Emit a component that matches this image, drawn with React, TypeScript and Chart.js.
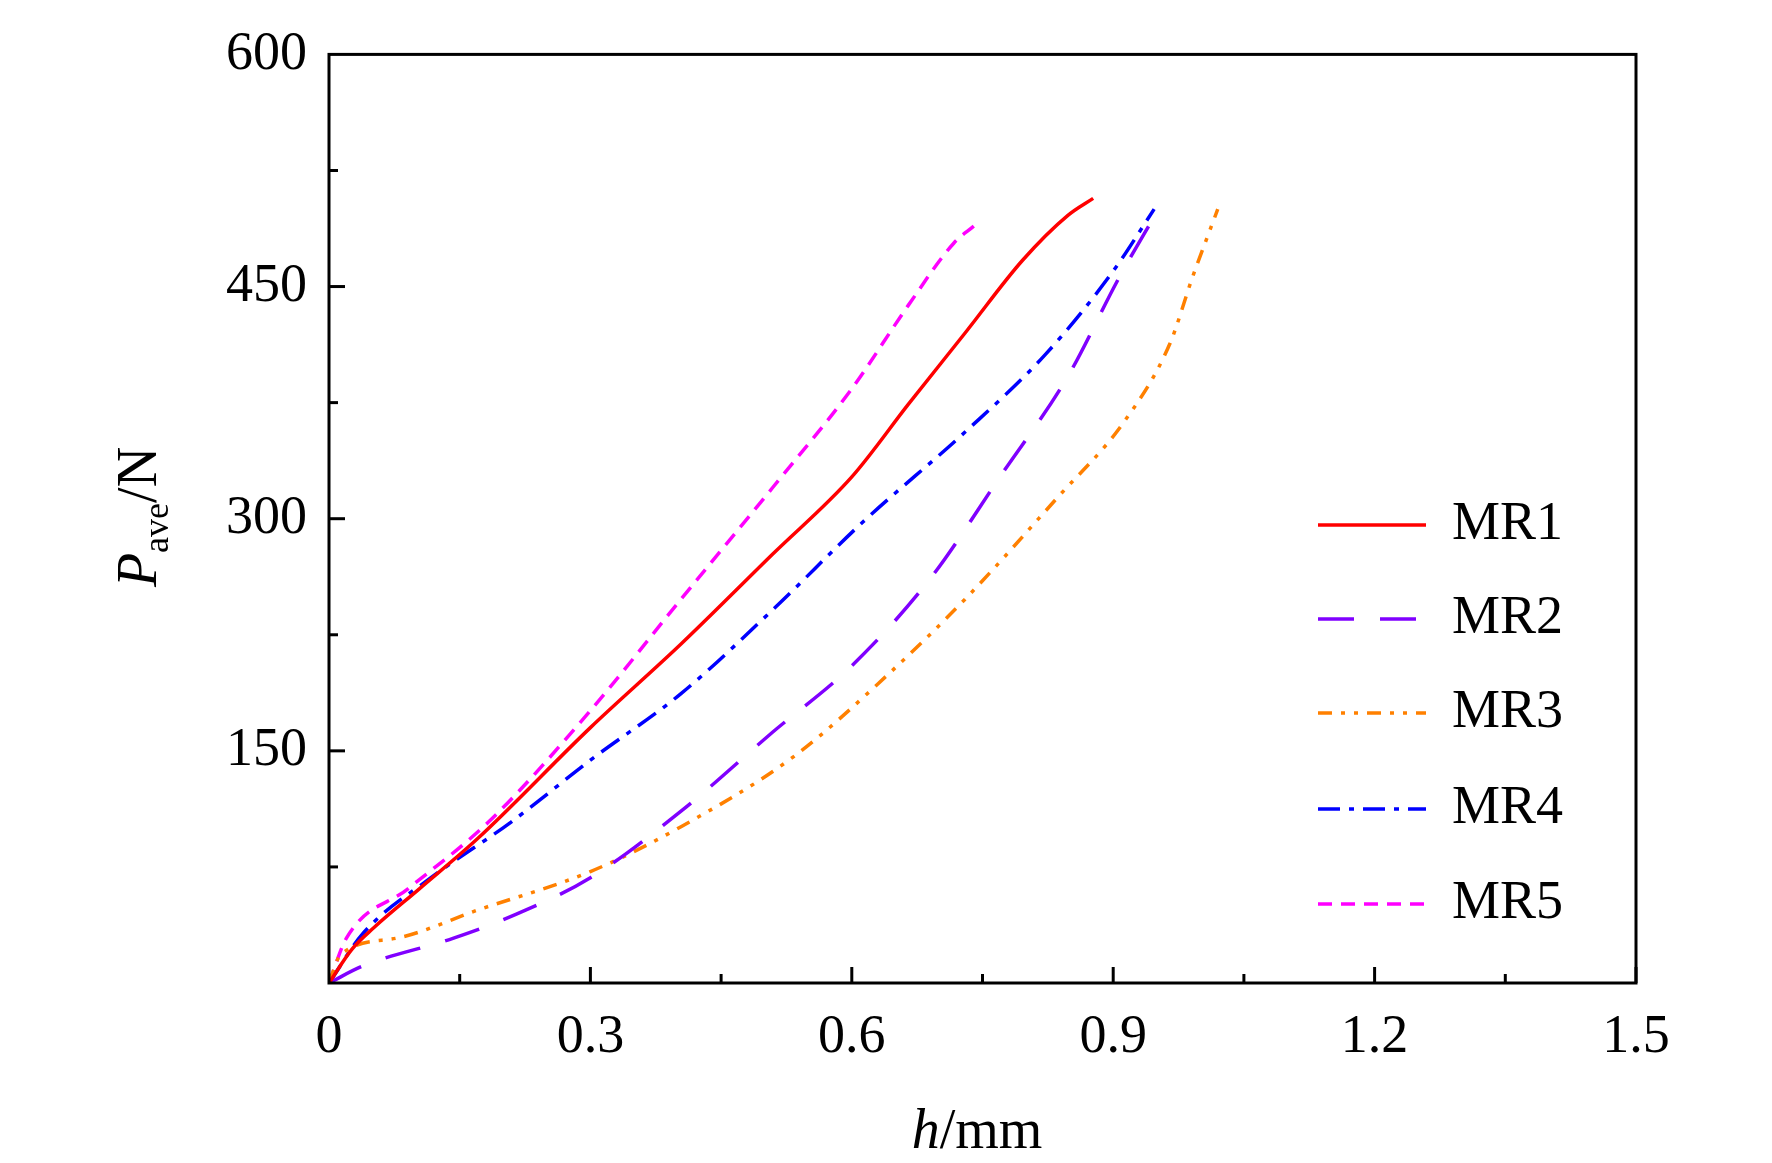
import React, { useEffect, useRef } from "react";
import { Chart, registerables } from "chart.js";
Chart.register(...registerables);

const mr1X = [0, 0.026, 0.052, 0.104, 0.17, 0.3, 0.404, 0.509, 0.6, 0.665, 0.73, 0.796, 0.848, 0.877];
const mr1Y = [0, 21.6, 36, 61, 93, 165, 219, 277, 327, 374, 420, 467, 496, 507];
const mr2X = [0, 0.039, 0.143, 0.209, 0.3, 0.404, 0.509, 0.6, 0.691, 0.77, 0.848, 0.907, 0.952];
const mr2Y = [0, 11, 29, 43, 68, 111, 162, 205, 262, 327, 392, 456, 500];
const mr3X = [0, 0.013, 0.078, 0.17, 0.3, 0.404, 0.535, 0.639, 0.73, 0.835, 0.913, 0.965, 0.991, 1.02];
const mr3Y = [0, 18, 29, 47, 72, 101, 147, 198, 248, 313, 363, 413, 456, 500];
const mr4X = [0, 0.039, 0.117, 0.209, 0.3, 0.404, 0.509, 0.613, 0.73, 0.822, 0.9, 0.947];
const mr4Y = [0, 32, 68, 104, 144, 187, 241, 298, 356, 406, 460, 500];
const mr5X = [0, 0.02, 0.091, 0.183, 0.3, 0.404, 0.509, 0.6, 0.665, 0.717, 0.74];
const mr5Y = [0, 29, 61, 104, 176, 248, 320, 384, 438, 478, 489];

const names = ["MR1", "MR2", "MR3", "MR4", "MR5"];
const colors = ["#ff0000", "#8000ff", "#ff8000", "#0000ff", "#ff00ff"];
const dashes = [[], [36, 26], [14, 9, 4, 9, 4, 9], [22, 9, 5, 9], [14, 9]];
const xs = [mr1X, mr2X, mr3X, mr4X, mr5X];
const ys = [mr1Y, mr2Y, mr3Y, mr4Y, mr5Y];
const FONT = "'Liberation Serif', 'Times New Roman', serif";

export default function App() {
  const ref = useRef<HTMLCanvasElement>(null);
  useEffect(() => {
    const deco = {
      id: "deco",
      afterDraw(c: any) {
        const ctx = c.ctx;
        const a = c.chartArea;
        const sx = c.scales.x, sy = c.scales.y;
        ctx.save();
        ctx.strokeStyle = "#000";
        ctx.lineWidth = 3;
        ctx.strokeRect(a.left, a.top, a.right - a.left, a.bottom - a.top);
        for (let v = 0.15; v < 1.5; v += 0.15) {
          const px = sx.getPixelForValue(v);
          const major = Math.round(v / 0.15) % 2 === 0;
          ctx.beginPath();
          ctx.moveTo(px, a.bottom);
          ctx.lineTo(px, a.bottom - (major ? 16 : 9));
          ctx.stroke();
        }
        for (let v = 75; v < 600; v += 75) {
          const py = sy.getPixelForValue(v);
          const major = v % 150 === 0;
          ctx.beginPath();
          ctx.moveTo(a.left, py);
          ctx.lineTo(a.left + (major ? 16 : 9), py);
          ctx.stroke();
        }
        // legend
        ctx.lineWidth = 3.5;
        ctx.font = `54px ${FONT}`;
        ctx.textBaseline = "middle";
        const rows = [525, 619, 713, 809, 904];
        names.forEach((n, i) => {
          ctx.strokeStyle = colors[i];
          ctx.setLineDash(dashes[i]);
          ctx.beginPath();
          ctx.moveTo(1318, rows[i]);
          ctx.lineTo(1426, rows[i]);
          ctx.stroke();
          ctx.setLineDash([]);
          ctx.fillStyle = "#000";
          ctx.textAlign = "left";
          ctx.fillText(n, 1452, rows[i]);
        });
        // x title
        ctx.textBaseline = "alphabetic";
        ctx.font = `italic 56px ${FONT}`;
        const hW = ctx.measureText("h").width;
        ctx.font = `56px ${FONT}`;
        const mW = ctx.measureText("/mm").width;
        let x0 = 977 - (hW + mW) / 2;
        ctx.textAlign = "left";
        ctx.font = `italic 56px ${FONT}`;
        ctx.fillText("h", x0, 1148);
        ctx.font = `56px ${FONT}`;
        ctx.fillText("/mm", x0 + hW, 1148);
        // y title
        ctx.translate(156, 517);
        ctx.rotate(-Math.PI / 2);
        ctx.font = `italic 56px ${FONT}`;
        const pW = ctx.measureText("P").width;
        ctx.font = `36px ${FONT}`;
        const sW = ctx.measureText("ave").width;
        ctx.font = `56px ${FONT}`;
        const nW = ctx.measureText("/N").width;
        let y0 = -(pW + sW + nW) / 2;
        ctx.font = `italic 56px ${FONT}`;
        ctx.fillText("P", y0, 0);
        ctx.font = `36px ${FONT}`;
        ctx.fillText("ave", y0 + pW, 12);
        ctx.font = `56px ${FONT}`;
        ctx.fillText("/N", y0 + pW + sW, 0);
        ctx.restore();
      },
    };
    const chart = new Chart(ref.current!, {
      type: "line",
      data: {
        datasets: names.map((n, i) => ({
          label: n,
          data: xs[i].map((x, j) => ({ x, y: ys[i][j] })),
          borderColor: colors[i],
          borderDash: dashes[i],
          borderWidth: 3.5,
          pointRadius: 0,
          tension: 0.4,
          cubicInterpolationMode: "monotone" as const,
          fill: false,
        })),
      },
      options: {
        animation: false,
        responsive: false,
        layout: { padding: { left: 0, right: 136, top: 34, bottom: 0 } },
        plugins: { legend: { display: false }, tooltip: { enabled: false } },
        scales: {
          x: {
            type: "linear",
            min: 0,
            max: 1.5,
            grid: { display: false, drawTicks: false },
            border: { display: false },
            afterFit: (s: any) => { s.height = 180; },
            ticks: {
              stepSize: 0.3,
              padding: 22,
              color: "#000",
              font: { family: FONT, size: 54 },
              callback: (v: any) => (v === 0 ? "0" : Number(v).toFixed(1)),
            },
          },
          y: {
            min: 0,
            max: 600,
            grid: { display: false, drawTicks: false },
            border: { display: false },
            afterFit: (s: any) => { s.width = 329; },
            ticks: {
              stepSize: 150,
              padding: 22,
              color: "#000",
              font: { family: FONT, size: 54 },
              callback: (v: any) => (v === 0 ? "" : String(v)),
            },
          },
        },
      },
      plugins: [deco],
    });
    return () => chart.destroy();
  }, []);
  return (
    <canvas
      ref={ref}
      width={1772}
      height={1163}
      style={{ position: "absolute", left: 0, top: 0, width: 1772, height: 1163, background: "#fff" }}
    />
  );
}
